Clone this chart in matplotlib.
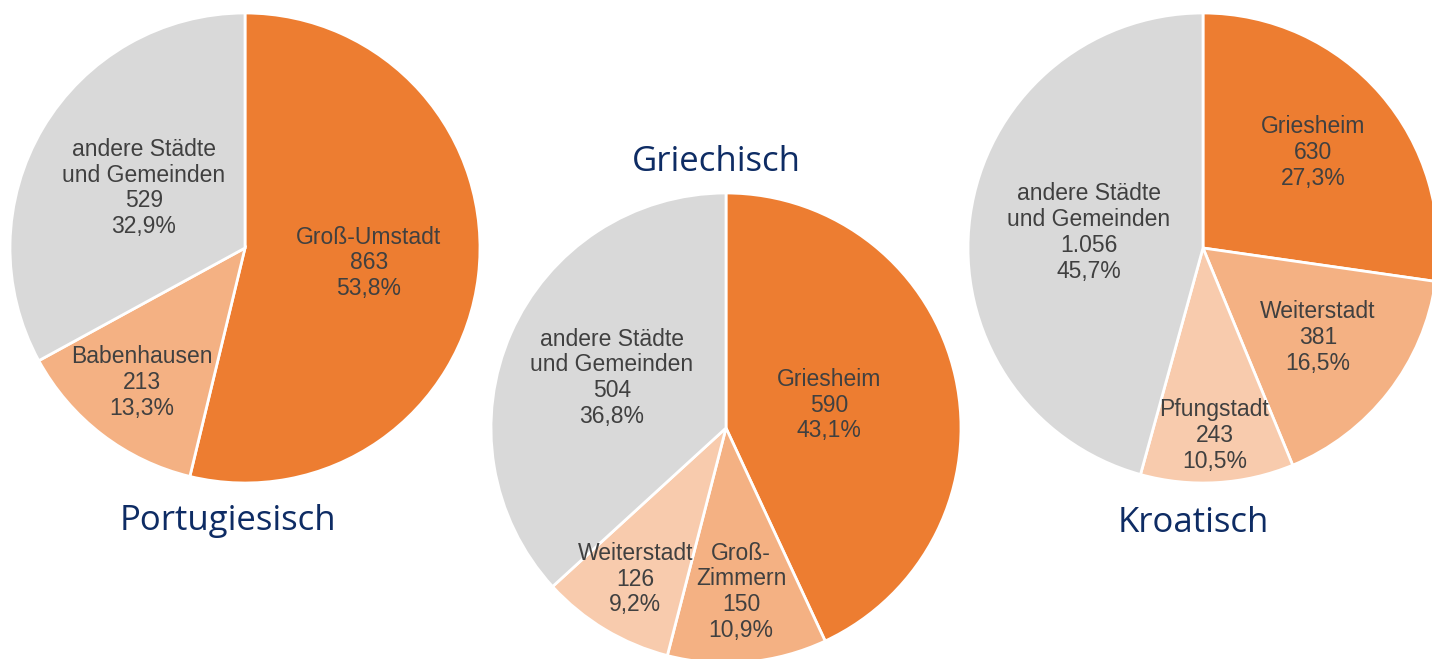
import numpy as np
import matplotlib
matplotlib.use("Agg")
import matplotlib.pyplot as plt

# Data
por_labels = ["Groß-Umstadt", "Babenhausen", "andere Städte\nund Gemeinden"]
por_values = [863, 213, 529]
por_pct = [53.8, 13.3, 32.9]

gri_labels = ["Griesheim", "Groß-\nZimmern", "Weiterstadt", "andere Städte\nund Gemeinden"]
gri_values = [590, 150, 126, 504]
gri_pct = [43.1, 10.9, 9.2, 36.8]

kro_labels = ["Griesheim", "Weiterstadt", "Pfungstadt", "andere Städte\nund Gemeinden"]
kro_values = [630, 381, 243, 1056]
kro_pct = [27.3, 16.5, 10.5, 45.7]

ORANGE = "#ED7D31"
ORANGE_MID = "#F4B183"
ORANGE_LIGHT = "#F8CBAD"
GREY = "#D9D9D9"
TEXT = "#404040"
TITLE = "#0E2C64"

W, H = 1432, 659
fig = plt.figure(figsize=(W / 100, H / 100), dpi=100)


def fmt_num(v):
    return f"{v:,}".replace(",", ".")


def fmt_pct(p):
    return f"{p:.1f}%".replace(".", ",")


def draw_pie(cx, cy, r, labels, values, pcts, colors, dists):
    # axes placed in pixel terms, pie radius = 1
    ax = fig.add_axes([(cx - r) / W, (H - cy - r) / H, 2 * r / W, 2 * r / H])
    wedges, _ = ax.pie(values, colors=colors, startangle=90, counterclock=False,
                       radius=1, wedgeprops=dict(edgecolor="white", linewidth=2))
    for w, lab, v, p, d in zip(wedges, labels, values, pcts, dists):
        ang = np.deg2rad((w.theta1 + w.theta2) / 2)
        ax.text(d * np.cos(ang), d * np.sin(ang),
                f"{lab}\n{fmt_num(v)}\n{fmt_pct(p)}",
                ha="center", va="center", fontsize=16.5, color=TEXT,
                family="Liberation Sans", linespacing=1.15)
    ax.set_xlim(-1, 1)
    ax.set_ylim(-1, 1)
    ax.axis("off")
    return ax


draw_pie(245, 248, 235, por_labels, por_values, por_pct,
         [ORANGE, ORANGE_MID, GREY], [0.53, 0.72, 0.5])
draw_pie(726, 428, 235, gri_labels, gri_values, gri_pct,
         [ORANGE, ORANGE_MID, ORANGE_LIGHT, GREY], [0.45, 0.7, 0.75, 0.53])
draw_pie(1203, 248, 235, kro_labels, kro_values, kro_pct,
         [ORANGE, ORANGE_MID, ORANGE_LIGHT, GREY], [0.62, 0.62, 0.8, 0.49])

# Titles
for txt, x, y in [("Portugiesisch", 228, 521), ("Griechisch", 716, 162), ("Kroatisch", 1193, 523)]:
    fig.text(x / W, 1 - y / H, txt, ha="center", va="center", fontsize=25,
             color=TITLE, family="Open Sans")

fig.savefig("out.png", dpi=100)
